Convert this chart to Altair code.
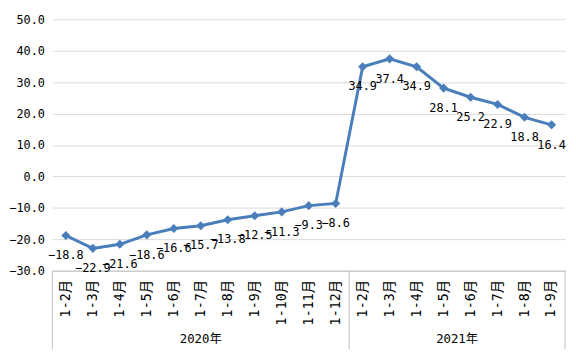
import altair as alt
import pandas as pd

FONT = "DejaVu Sans Mono, Noto Sans CJK SC"

years = ["2020年", "2021年"]
months_2020 = ["1-2月", "1-3月", "1-4月", "1-5月", "1-6月", "1-7月", "1-8月",
               "1-9月", "1-10月", "1-11月", "1-12月"]
values_2020 = [-18.8, -22.9, -21.6, -18.6, -16.6, -15.7, -13.8, -12.5, -11.3, -9.3, -8.6]
months_2021 = ["1-2月", "1-3月", "1-4月", "1-5月", "1-6月", "1-7月", "1-8月", "1-9月"]
values_2021 = [34.9, 37.4, 34.9, 28.1, 25.2, 22.9, 18.8, 16.4]
y_ticks = [-30, -20, -10, 0, 10, 20, 30, 40, 50]

groups = [(years[0], months_2020, values_2020), (years[1], months_2021, values_2021)]
rows = []
for year, months, vals in groups:
    for m, v in zip(months, vals):
        rows.append({"key": f"{year}|{m}", "year": year, "month": m, "value": v})
df = pd.DataFrame(rows)
order = list(df["key"])

W, H = 520, 255
LINE = "#4a7ebb"
GRAY = "#bfbfbf"

xscale = alt.Scale(type="band", domain=order, paddingInner=0, paddingOuter=0)
xaxis = alt.Axis(title=None, labelAngle=-90, labelExpr="split(datum.label,'|')[1]",
                 ticks=False, domainColor=GRAY, labelPadding=9, labelFontSize=13.5,
                 labelFont=FONT, labelColor="black", grid=False)


def xenc(band=None):
    kw = {"scale": xscale, "axis": xaxis, "title": None}
    if band is not None:
        kw["bandPosition"] = band
    return alt.X("key:N", **kw)


yenc = alt.Y("value:Q", scale=alt.Scale(domain=[-30, 50], nice=False),
             axis=alt.Axis(values=y_ticks, format=".1f", title=None, domain=False,
                           ticks=False, gridColor="#d9d9d9", labelPadding=8,
                           labelFontSize=12, labelFont=FONT, labelColor="black"))

base = alt.Chart(df)
line = base.mark_line(color=LINE, strokeWidth=3).encode(x=xenc(), y=yenc)
pts = base.mark_point(shape="diamond", filled=True, size=85, color=LINE, opacity=1).encode(
    x=xenc(), y=yenc)
labels = base.mark_text(dy=20, fontSize=12, font=FONT, color="black").encode(
    x=xenc(), y=yenc, text=alt.Text("value:Q", format=".1f"))

# separators
first_keys = [f"{year}|{months[0]}" for year, months, vals in groups]
sep_left = pd.DataFrame({"key": first_keys})
sep_right = pd.DataFrame({"key": [order[-1]]})
rule_l = alt.Chart(sep_left).mark_rule(color=GRAY, strokeWidth=1).encode(
    x=xenc(band=0), y=alt.value(H), y2=alt.value(H + 90))
rule_r = alt.Chart(sep_right).mark_rule(color=GRAY, strokeWidth=1).encode(
    x=xenc(band=1), y=alt.value(H), y2=alt.value(H + 90))

# group labels
glayers = []
for year, months, vals in groups:
    n = len(months)
    idx = n // 2
    band = 0.5 if n % 2 == 1 else 0
    gdf = pd.DataFrame({"key": [f"{year}|{months[idx]}"], "year": [year]})
    glayers.append(alt.Chart(gdf).mark_text(fontSize=12.5, font=FONT, color="black").encode(
        x=xenc(band=band), y=alt.value(H + 69), text="year:N"))

chart = alt.layer(line, pts, labels, rule_l, rule_r, *glayers).properties(
    width=W, height=H,
    autosize=alt.AutoSizeParams(type="none"),
    padding={"left": 45, "top": 9, "right": 3, "bottom": 77},
).configure_view(stroke=None)

chart.save("out.html", embed_options={"renderer": "svg", "actions": False})
